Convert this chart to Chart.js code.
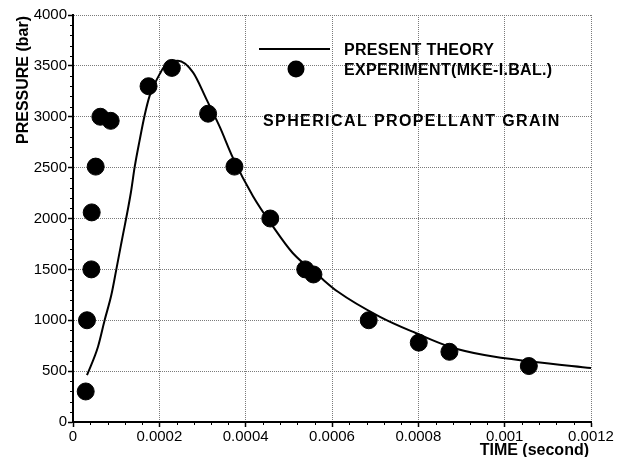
<!DOCTYPE html>
<html>
<head>
<meta charset="utf-8">
<script src="https://cdn.jsdelivr.net/npm/chart.js"></script>
<style>
  html, body { margin: 0; padding: 0; background: #fff; }
  #wrap { width: 625px; height: 457px; }
</style>
</head>
<body>
<div id="wrap"><canvas id="pressureChart" width="625" height="457"></canvas></div>
<script>
// measured points, MKE-I ballistic test
const expTime = [0.0000294, 0.0000324, 0.0000425, 0.0000433, 0.0000525, 0.0000634, 0.0000873,
    0.000175, 0.000229, 0.000313, 0.000374, 0.000457, 0.000538, 0.000557, 0.000685,
    0.000801, 0.000872, 0.001056];
const expPressure = [300, 1000, 1500, 2060, 2510, 3000, 2960,
    3300, 3480, 3030, 2510, 2000, 1500, 1450, 1000,
    780, 690, 550];

// model curve
const theoryTime = [0.0000324, 0.0000579, 0.0000734, 0.0000889, 0.0001005, 0.000112, 0.000134,
    0.000143, 0.000154, 0.000166, 0.0001775, 0.000189, 0.0002007, 0.000212, 0.000243,
    0.000278, 0.000309, 0.000340, 0.000370, 0.000417, 0.000463, 0.000509, 0.000571,
    0.000613, 0.000710, 0.000795, 0.000872, 0.000953, 0.001065, 0.0012];
const theoryPressure = [460, 740, 1003, 1250, 1503, 1759, 2253,
    2509, 2761, 3015, 3205, 3321, 3419, 3495, 3550,
    3436, 3173, 2900, 2600, 2219, 1923, 1661, 1430,
    1282, 1036, 872, 740, 658, 592, 530];

const xTickLabels = ['0', '0.0002', '0.0004', '0.0006', '0.0008', '0.001', '0.0012'];
const yTickLabels = ['0', '500', '1000', '1500', '2000', '2500', '3000', '3500', '4000'];

const FONT = '"Liberation Sans", Arial, sans-serif';

function toPoints(xs, ys) {
    return xs.map((x, i) => ({ x: x, y: ys[i] }));
}

// small outward ticks between the labelled ones
const minorTicks = {
    id: 'minorTicks',
    afterDraw(chart) {
        const ctx = chart.ctx;
        const xs = chart.scales.x, ys = chart.scales.y;
        const area = chart.chartArea;
        ctx.save();
        ctx.strokeStyle = '#000';
        ctx.lineWidth = 1;
        ctx.beginPath();
        for (let v = 100; v < 4000; v += 100) {
            if (v % 500 === 0) continue;
            const py = Math.round(ys.getPixelForValue(v)) + 0.5;
            ctx.moveTo(area.left - 3, py);
            ctx.lineTo(area.left, py);
        }
        for (let k = 1; k < 30; k++) {
            if (k % 5 === 0) continue;
            const px = Math.round(xs.getPixelForValue(k * 0.00004)) + 0.5;
            ctx.moveTo(px, area.bottom);
            ctx.lineTo(px, area.bottom + 3);
        }
        ctx.stroke();
        ctx.restore();
    }
};

// legend, annotation and axis titles
const chartText = {
    id: 'chartText',
    afterDraw(chart) {
        const ctx = chart.ctx;
        ctx.save();
        ctx.fillStyle = '#000';
        ctx.strokeStyle = '#000';

        ctx.lineWidth = 2;
        ctx.beginPath();
        ctx.moveTo(259, 49);
        ctx.lineTo(330, 49);
        ctx.stroke();
        ctx.beginPath();
        ctx.arc(296, 69, 8.5, 0, Math.PI * 2);
        ctx.fill();

        ctx.font = 'bold 16px ' + FONT;
        ctx.textBaseline = 'alphabetic';
        ctx.textAlign = 'left';
        ctx.letterSpacing = '0.3px';
        ctx.fillText('PRESENT THEORY', 344, 55);
        ctx.fillText('EXPERIMENT(MKE-I.BAL.)', 344, 75);
        ctx.letterSpacing = '1.4px';
        ctx.fillText('SPHERICAL PROPELLANT GRAIN', 263, 125.5);

        ctx.letterSpacing = '0px';
        ctx.textAlign = 'right';
        ctx.fillText('TIME (second)', 589, 454.5);

        ctx.translate(27.5, 80);
        ctx.rotate(-Math.PI / 2);
        ctx.textAlign = 'center';
        ctx.fillText('PRESSURE (bar)', 0, 0);
        ctx.restore();
    }
};

const ctx = document.getElementById('pressureChart').getContext('2d');
new Chart(ctx, {
    type: 'scatter',
    data: {
        datasets: [
            {
                label: 'EXPERIMENT(MKE-I.BAL.)',
                data: toPoints(expTime, expPressure),
                backgroundColor: '#000',
                borderColor: '#000',
                pointRadius: 8.5,
                pointHoverRadius: 8.5,
                showLine: false
            },
            {
                label: 'PRESENT THEORY',
                data: toPoints(theoryTime, theoryPressure),
                borderColor: '#000',
                borderWidth: 2,
                pointRadius: 0,
                showLine: true,
                cubicInterpolationMode: 'monotone'
            }
        ]
    },
    options: {
        responsive: false,
        animation: false,
        events: [],
        layout: { padding: { left: 0, top: 15, right: 34, bottom: 0 } },
        plugins: {
            legend: { display: false },
            tooltip: { enabled: false }
        },
        scales: {
            x: {
                type: 'linear',
                min: 0,
                max: 0.0012,
                afterFit(scale) { scale.height = 35; },
                border: { display: true, color: '#000', width: 2, dash: [1, 1] },
                grid: {
                    color: '#7a7a7a',
                    lineWidth: 1,
                    tickColor: '#000',
                    tickLength: 5,
                    tickWidth: 1.5
                },
                ticks: {
                    stepSize: 0.0002,
                    autoSkip: false,
                    maxRotation: 0,
                    padding: 1,
                    color: '#000',
                    font: { family: FONT, size: 15 },
                    callback: (value, index) => xTickLabels[index]
                }
            },
            y: {
                min: 0,
                max: 4000,
                afterFit(scale) { scale.width = 73; },
                border: { display: true, color: '#000', width: 2, dash: [1, 1] },
                grid: {
                    color: '#7a7a7a',
                    lineWidth: 1,
                    tickColor: '#000',
                    tickLength: 5,
                    tickWidth: 1.5
                },
                ticks: {
                    stepSize: 500,
                    padding: 1,
                    color: '#000',
                    font: { family: FONT, size: 15 },
                    callback: (value, index) => yTickLabels[index]
                }
            }
        }
    },
    plugins: [minorTicks, chartText]
});
</script>
</body>
</html>
